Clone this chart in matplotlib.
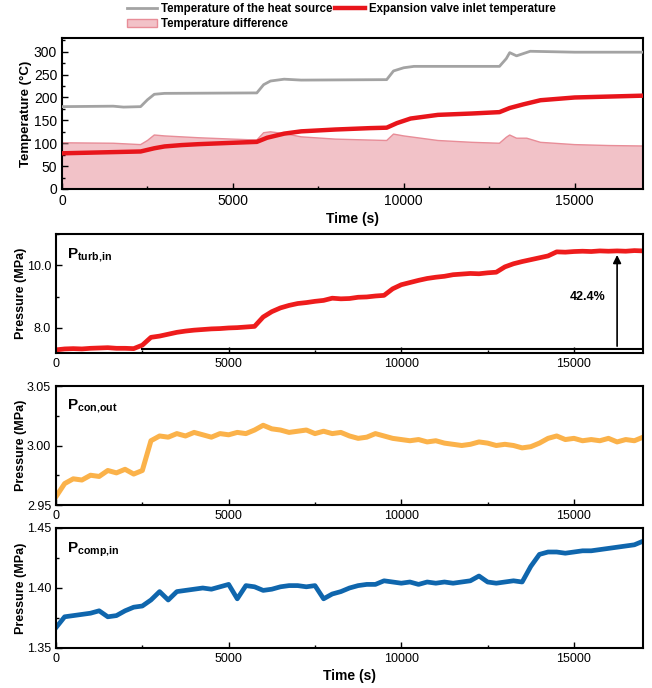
import numpy as np
import matplotlib
matplotlib.use("Agg")
import matplotlib.pyplot as plt
from matplotlib.lines import Line2D
from matplotlib.patches import Patch
from matplotlib.ticker import MultipleLocator, FormatStrFormatter

plt.rcParams['font.family'] = ['Liberation Sans', 'DejaVu Sans']
plt.rcParams['mathtext.fontset'] = 'custom'
plt.rcParams['mathtext.rm'] = 'Liberation Sans'
plt.rcParams['mathtext.bf'] = 'Liberation Sans:bold'

# ---------------- data ----------------
heat_t = [0, 1500, 1800, 2300, 2500, 2700, 3000, 5700, 5900, 6100, 6500, 7000, 9500, 9700,
          10000, 10300, 12800, 13000, 13100, 13300, 13700, 15000, 17000]
heat_temp = [180, 181, 179, 180, 195, 207, 209, 210, 228, 236, 240, 238, 239, 258,
             265, 268, 268, 285, 298, 291, 301, 299, 299]

valve_t = [0, 2300, 2700, 3000, 3500, 4000, 5000, 5700, 6000, 6500, 7000, 8000, 9000, 9500,
           9800, 10200, 11000, 12000, 12800, 13100, 13500, 14000, 15000, 16000, 17000]
valve_temp = [78, 82, 89, 93, 96, 98, 101, 103, 112, 121, 126, 130, 133, 134,
              144, 154, 162, 165, 168, 177, 185, 194, 200, 202, 204]

diff_t = [0, 1500, 2300, 2500, 2700, 3000, 4000, 5000, 5700, 5900, 6100, 6500, 7000, 8000,
          9500, 9700, 10000, 11000, 12000, 12800, 13000, 13100, 13300, 13600, 14000, 15000,
          16000, 17000]
diff_temp = [101, 100, 97, 106, 118, 116, 112, 109, 107, 123, 125, 121, 114, 109,
             106, 120, 116, 106, 102, 100, 113, 118, 111, 111, 102, 97, 95, 94]

p_turb_in = [7.30, 7.33, 7.34, 7.33, 7.35, 7.36, 7.37, 7.35, 7.35, 7.34,
             7.45, 7.70, 7.74, 7.80, 7.86, 7.90, 7.93, 7.95, 7.97, 7.98,
             8.00, 8.01, 8.03, 8.05, 8.35, 8.52, 8.64, 8.72, 8.78, 8.81,
             8.85, 8.88, 8.95, 8.93, 8.94, 8.98, 8.99, 9.02, 9.04, 9.25,
             9.38, 9.45, 9.52, 9.58, 9.62, 9.65, 9.70, 9.72, 9.74, 9.73,
             9.76, 9.78, 9.95, 10.05, 10.12, 10.18, 10.24, 10.30, 10.43, 10.42,
             10.44, 10.45, 10.44, 10.46, 10.45, 10.46, 10.45, 10.47, 10.46]

p_con_out = [2.957, 2.968, 2.972, 2.971, 2.975, 2.974, 2.979, 2.977, 2.980, 2.976,
             2.979, 3.004, 3.008, 3.007, 3.010, 3.008, 3.011, 3.009, 3.007, 3.010,
             3.009, 3.011, 3.010, 3.013, 3.017, 3.014, 3.013, 3.011, 3.012, 3.013,
             3.010, 3.012, 3.010, 3.011, 3.008, 3.006, 3.007, 3.010, 3.008, 3.006,
             3.005, 3.004, 3.005, 3.003, 3.004, 3.002, 3.001, 3.000, 3.001, 3.003,
             3.002, 3.000, 3.001, 3.000, 2.998, 2.999, 3.002, 3.006, 3.008, 3.005,
             3.006, 3.004, 3.005, 3.004, 3.006, 3.003, 3.005, 3.004, 3.007]

p_comp_in = [1.367, 1.376, 1.377, 1.378, 1.379, 1.381, 1.376, 1.377, 1.381, 1.384,
             1.385, 1.390, 1.397, 1.390, 1.397, 1.398, 1.399, 1.400, 1.399, 1.401,
             1.403, 1.391, 1.402, 1.401, 1.398, 1.399, 1.401, 1.402, 1.402, 1.401,
             1.402, 1.391, 1.395, 1.397, 1.400, 1.402, 1.403, 1.403, 1.406, 1.405,
             1.404, 1.405, 1.403, 1.405, 1.404, 1.405, 1.404, 1.405, 1.406, 1.410,
             1.405, 1.404, 1.405, 1.406, 1.405, 1.418, 1.428, 1.430, 1.430, 1.429,
             1.430, 1.431, 1.431, 1.432, 1.433, 1.434, 1.435, 1.436, 1.439]

p_turb_base = 7.33
p_turb_top = 10.42
rise_label = "42.4%"

# ---------------- figure ----------------
W, H = 652, 688
fig = plt.figure(figsize=(W / 100, H / 100), dpi=100)


def ax_px(l, t, r, b):
    return fig.add_axes([l / W, 1 - b / H, (r - l) / W, (b - t) / H])


def style(ax, fs):
    for s in ax.spines.values():
        s.set_linewidth(1.5)
    ax.tick_params(direction='in', which='both', labelsize=fs, width=1.0)
    ax.tick_params(which='major', length=4)
    ax.tick_params(which='minor', length=2.5)
    ax.set_xlim(0, 17000)
    ax.xaxis.set_major_locator(MultipleLocator(5000))
    ax.xaxis.set_minor_locator(MultipleLocator(2500))


# Panel 1
ax1 = ax_px(62, 38, 643, 189)
ax1.fill_between(diff_t, 0, diff_temp, facecolor='#f2c2c8', edgecolor='none', zorder=1)
ax1.plot(diff_t, diff_temp, color='#e88d98', lw=1.0, zorder=2)
ax1.plot(heat_t, heat_temp, color='#a3a3a3', lw=2.0, zorder=3)
ax1.plot(valve_t, valve_temp, color='#e8151b', lw=3.2, zorder=4, solid_capstyle='butt')
ax1.set_ylim(0, 330)
ax1.yaxis.set_major_locator(MultipleLocator(50))
ax1.yaxis.set_minor_locator(MultipleLocator(25))
style(ax1, 10)
ax1.set_ylabel('Temperature (°C)', fontsize=9.5, fontweight='bold', labelpad=1)
ax1.set_xlabel('Time (s)', fontsize=10, fontweight='bold', labelpad=3)

h_heat = Line2D([], [], color='#a3a3a3', lw=2.0)
h_valve = Line2D([], [], color='#e8151b', lw=3.2)
h_diff = Patch(facecolor='#f2c2c8', edgecolor='#e88d98')
fig.legend([h_heat, h_diff, h_valve],
           ['Temperature of the heat source', 'Temperature difference',
            'Expansion valve inlet temperature'],
           loc='upper left', bbox_to_anchor=(126 / W, 1 - 2 / H),
           ncol=2, frameon=False, prop={'weight': 'bold', 'size': 8.3},
           handlelength=2.6, handletextpad=0.3, columnspacing=0.3, labelspacing=0.25,
           borderaxespad=0, borderpad=0.1)

t_p = np.linspace(0, 17000, len(p_turb_in))

# Panel 2
ax2 = ax_px(56, 234, 643, 353)
ax2.plot(t_p, p_turb_in, color='#ee1c1c', lw=3.4, solid_joinstyle='round')
ax2.set_ylim(7.2, 11.0)
ax2.set_yticks([8.0, 10.0])
ax2.yaxis.set_minor_locator(MultipleLocator(1.0))
ax2.yaxis.set_major_formatter(FormatStrFormatter('%.1f'))
style(ax2, 9)
ax2.hlines(p_turb_base, 2450, 17000, color='black', lw=1.5)
ax2.annotate('', xy=(16250, p_turb_top), xytext=(16250, p_turb_base),
             arrowprops=dict(arrowstyle='-|>', color='black', lw=1.2, mutation_scale=12))
ax2.text(15400, 9.0, rise_label, fontsize=9, fontweight='bold', ha='center', va='center')
ax2.text(0.018, 0.9, r'$\mathbf{P}_{\mathbf{turb{,}in}}$', transform=ax2.transAxes,
         fontsize=11, va='top', ha='left')
ax2.set_ylabel('Pressure (MPa)', fontsize=9, fontweight='bold', labelpad=0)

# Panel 3
ax3 = ax_px(56, 386, 643, 505)
ax3.plot(t_p, p_con_out, color='#fbb24a', lw=3.6, solid_joinstyle='round')
ax3.set_ylim(2.95, 3.05)
ax3.set_yticks([2.95, 3.00, 3.05])
ax3.yaxis.set_minor_locator(MultipleLocator(0.025))
ax3.yaxis.set_major_formatter(FormatStrFormatter('%.2f'))
style(ax3, 9)
ax3.text(0.018, 0.9, r'$\mathbf{P}_{\mathbf{con{,}out}}$', transform=ax3.transAxes,
         fontsize=11, va='top', ha='left')
ax3.set_ylabel('Pressure (MPa)', fontsize=9, fontweight='bold', labelpad=0)

# Panel 4
ax4 = ax_px(56, 528, 643, 648)
ax4.plot(t_p, p_comp_in, color='#0f66ad', lw=3.4, solid_joinstyle='round')
ax4.set_ylim(1.35, 1.45)
ax4.set_yticks([1.35, 1.40, 1.45])
ax4.yaxis.set_minor_locator(MultipleLocator(0.025))
ax4.yaxis.set_major_formatter(FormatStrFormatter('%.2f'))
style(ax4, 9)
ax4.text(0.018, 0.9, r'$\mathbf{P}_{\mathbf{comp{,}in}}$', transform=ax4.transAxes,
         fontsize=11, va='top', ha='left')
ax4.set_ylabel('Pressure (MPa)', fontsize=9, fontweight='bold', labelpad=0)
ax4.set_xlabel('Time (s)', fontsize=10, fontweight='bold', labelpad=3)

fig.savefig('out.png', dpi=100)
